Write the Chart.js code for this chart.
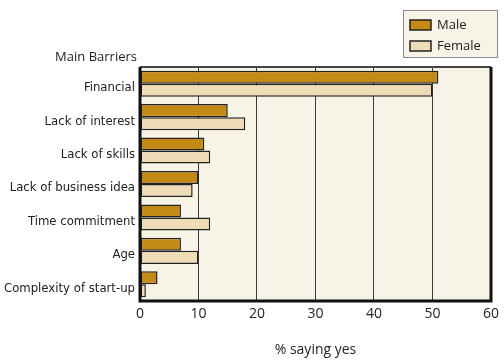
<!DOCTYPE html>
<html>
<head>
<meta charset="utf-8">
<script src="https://cdn.jsdelivr.net/npm/chart.js@4"></script>
<style>
  html, body { margin: 0; padding: 0; background: #fff; }
  #wrap { width: 504px; height: 360px; }
</style>
</head>
<body>
<div id="wrap"><canvas id="barChart" width="504" height="360"></canvas></div>
<script>
var barriers = ["Financial", "Lack of interest", "Lack of skills", "Lack of business idea", "Time commitment", "Age", "Complexity of start-up"];
var maleValues = [51, 15, 11, 10, 7, 7, 3];
var femaleValues = [50, 18, 12, 9, 12, 10, 1];
var seriesNames = ["Male", "Female"];
var seriesColors = ["#C38A16", "#EEDCB6"];

var plotBg = "#F8F3E7";

// cream plot background + heavy frame
var frame = {
  id: "frame",
  beforeDraw: function (chart) {
    var a = chart.chartArea, ctx = chart.ctx;
    ctx.save();
    ctx.fillStyle = plotBg;
    ctx.fillRect(a.left, a.top, a.right - a.left, a.bottom - a.top);
    ctx.restore();
  },
  afterDraw: function (chart) {
    var a = chart.ctx, c = chart.chartArea;
    a.save();
    a.strokeStyle = "#444";
    a.lineWidth = 2;
    a.beginPath();
    a.moveTo(c.left, c.top);
    a.lineTo(c.right, c.top);
    a.stroke();
    a.strokeStyle = "#111";
    a.lineWidth = 3;
    a.beginPath();
    a.moveTo(c.left, c.top);
    a.lineTo(c.left, c.bottom);
    a.lineTo(c.right, c.bottom);
    a.lineTo(c.right, c.top);
    a.stroke();

    // "Main Barriers" heading
    a.fillStyle = "#222";
    a.font = "13px 'Open Sans'";
    a.textAlign = "right";
    a.textBaseline = "middle";
    a.fillText("Main Barriers", 137, 57);

    // legend box
    a.fillStyle = plotBg;
    a.fillRect(403, 10, 94, 47);
    a.strokeStyle = "#888";
    a.lineWidth = 1;
    a.strokeRect(403.5, 10.5, 94, 47);
    chart.data.datasets.forEach(function (ds, i) {
      var y = 20 + i * 21;
      a.fillStyle = ds.backgroundColor;
      a.fillRect(410, y, 21, 10);
      a.strokeStyle = "#222";
      a.lineWidth = 1.5;
      a.strokeRect(410, y, 21, 10);
      a.fillStyle = "#222";
      a.textAlign = "left";
      a.font = "13px 'Open Sans'";
      a.fillText(ds.label, 437, y + 5);
    });
    a.restore();
  }
};

new Chart("barChart", {
  type: "bar",
  data: {
    labels: barriers,
    datasets: [
      {
        label: seriesNames[0],
        data: maleValues,
        backgroundColor: seriesColors[0],
        borderColor: "#222",
        borderWidth: 1.5,
        borderSkipped: false,
      },
      {
        label: seriesNames[1],
        data: femaleValues,
        backgroundColor: seriesColors[1],
        borderColor: "#222",
        borderWidth: 1.5,
        borderSkipped: false,
      },
    ],
  },
  options: {
    indexAxis: "y",
    responsive: false,
    animation: false,
    layout: { padding: { top: 67, right: 7, left: 0, bottom: 0 } },
    datasets: { bar: { categoryPercentage: 0.78, barPercentage: 1.0 } },
    plugins: {
      legend: { display: false },
      tooltip: { enabled: false },
    },
    scales: {
      x: {
        min: 0,
        max: 60,
        ticks: {
          stepSize: 10,
          padding: 5,
          color: "#222",
          font: { family: "'Open Sans'", size: 14 },
        },
        grid: { color: "#3a3a3a", lineWidth: 1, drawTicks: false },
        border: { display: false },
        title: {
          display: true,
          text: "% saying yes",
          color: "#222",
          font: { family: "'Open Sans'", size: 14 },
          padding: { top: 4, bottom: 2 },
        },
        afterFit: function (s) { s.height = 59; },
      },
      y: {
        ticks: {
          padding: 5,
          labelOffset: 4,
          color: "#222",
          font: { family: "'Liberation Sans Narrow', 'DejaVu Sans Condensed'", size: 13 },
        },
        grid: { display: false, drawTicks: false },
        border: { display: false },
        afterFit: function (s) { s.width = 140; },
      },
    },
  },
  plugins: [frame],
});
</script>
</body>
</html>
